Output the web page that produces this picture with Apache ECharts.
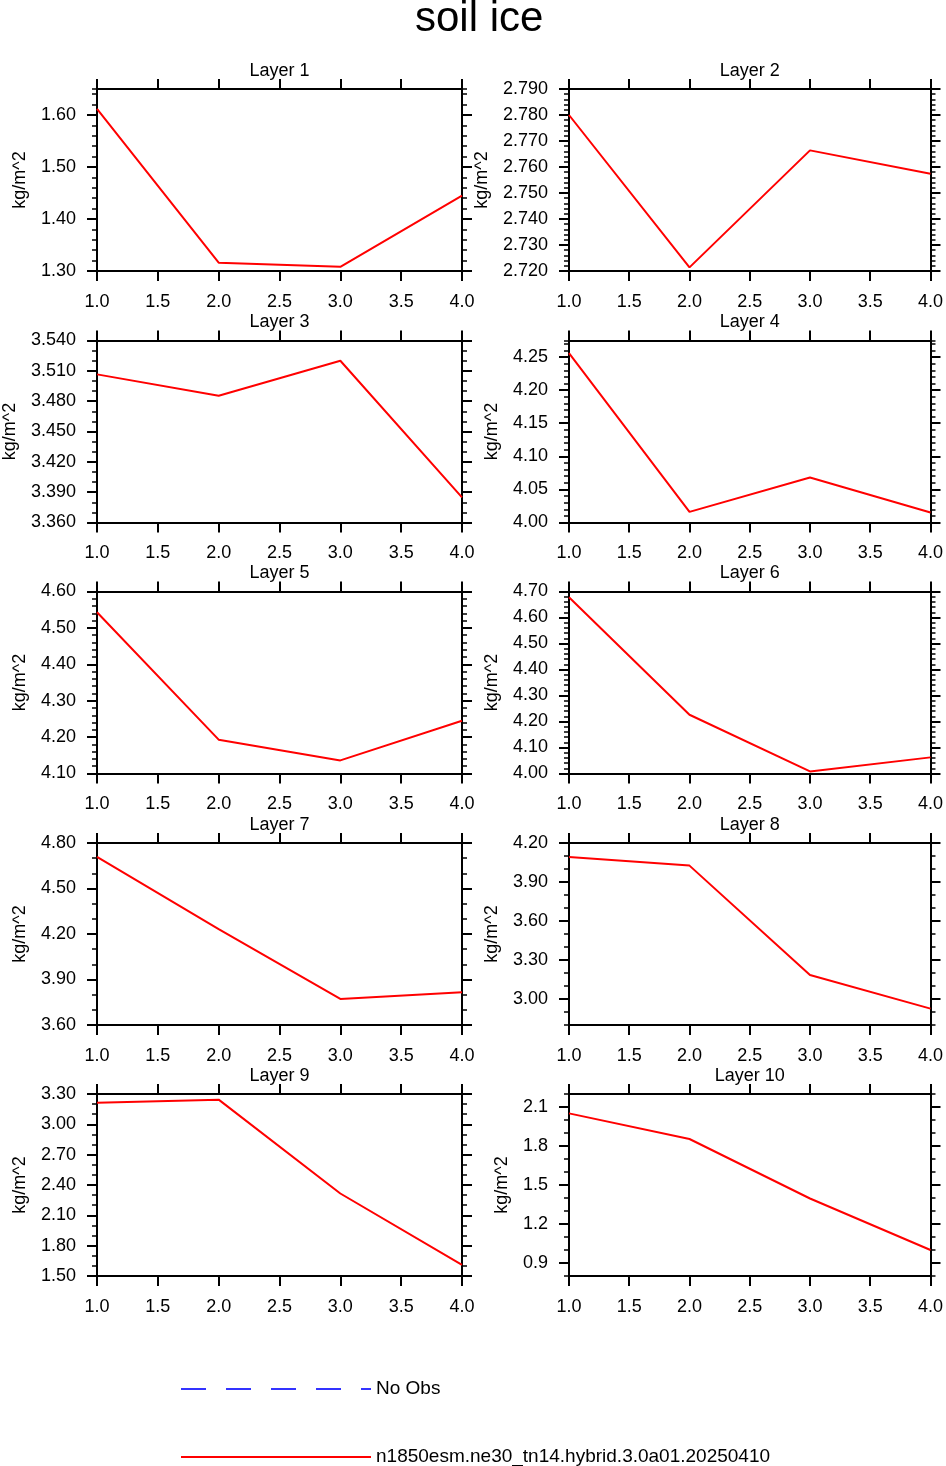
<!DOCTYPE html>
<html><head><meta charset="utf-8">
<script src="https://cdn.jsdelivr.net/npm/echarts@6/dist/echarts.min.js"></script>
<style>html,body{margin:0;padding:0;background:#fff}#c{width:946px;height:1466px}</style>
</head><body><div id="c"></div>
<script>
// ---------- data ----------
const chartTitle = 'soil ice';
const runName = 'n1850esm.ne30_tn14.hybrid.3.0a01.20250410';
const obsName = 'No Obs';
const unitName = 'kg/m^2';
const layerNames = ['Layer 1','Layer 2','Layer 3','Layer 4','Layer 5','Layer 6','Layer 7','Layer 8','Layer 9','Layer 10'];
const xValues = [1, 2, 3, 4];
const layer1 = [1.612, 1.316, 1.308, 1.445];
const layer2 = [2.7800, 2.7214, 2.7664, 2.7574];
const layer3 = [3.5065, 3.4853, 3.5200, 3.3849];
const layer4 = [4.256, 4.016, 4.068, 4.015];
const layer5 = [4.543, 4.193, 4.136, 4.245];
const layer6 = [4.678, 4.226, 4.008, 4.062];
const layer7 = [4.708, 4.232, 3.772, 3.816];
const layer8 = [4.092, 4.026, 3.185, 2.926];
const layer9 = [3.214, 3.244, 2.316, 1.609];
const layer10 = [2.051, 1.854, 1.396, 1.000];
const xTicks = ['1.0','1.5','2.0','2.5','3.0','3.5','4.0'];
const ticks1 = ['1.30','1.40','1.50','1.60'];
const ticks2 = ['2.720','2.730','2.740','2.750','2.760','2.770','2.780','2.790'];
const ticks3 = ['3.360','3.390','3.420','3.450','3.480','3.510','3.540'];
const ticks4 = ['4.00','4.05','4.10','4.15','4.20','4.25'];
const ticks5 = ['4.10','4.20','4.30','4.40','4.50','4.60'];
const ticks6 = ['4.00','4.10','4.20','4.30','4.40','4.50','4.60','4.70'];
const ticks7 = ['3.60','3.90','4.20','4.50','4.80'];
const ticks8 = ['3.00','3.30','3.60','3.90','4.20'];
const ticks9 = ['1.50','1.80','2.10','2.40','2.70','3.00','3.30'];
const ticks10 = ['0.9','1.2','1.5','1.8','2.1'];
const yMin = [1.30, 2.720, 3.360, 4.00, 4.10, 4.00, 3.60, 2.80, 1.50, 0.8];
const yMax = [1.65, 2.790, 3.540, 4.275, 4.60, 4.70, 4.80, 4.20, 3.30, 2.2];
const yMinorStep = [0.02, 0.002, 0.01, 0.01, 0.02, 0.02, 0.1, 0.1, 0.1, 0.1];

const layers = [layer1, layer2, layer3, layer4, layer5, layer6, layer7, layer8, layer9, layer10];
const yTicks = [ticks1, ticks2, ticks3, ticks4, ticks5, ticks6, ticks7, ticks8, ticks9, ticks10];

// ---------- layout ----------
const FONT = '"Liberation Sans", Arial, Helvetica, sans-serif';
const colLeft = [97, 569];
const colWidth = [365, 364];
const rowTop = [89, 340.5, 591.5, 843, 1094];
const panelH = 182;
const black = '#000000';
const red = '#ff0000';
const blue = '#3333ff';

const ctx = document.createElement('canvas').getContext('2d');
ctx.font = '18px "Liberation Sans"';
function textW(s) { return ctx.measureText(s).width; }

const grid = [], xAxis = [], yAxis = [], series = [];
const txt = { fontSize: 18, color: black, fontFamily: FONT };

layers.forEach((vals, i) => {
  const col = i % 2, row = Math.floor(i / 2);
  grid.push({ left: colLeft[col], top: rowTop[row], width: colWidth[col], height: panelH, containLabel: false });
  const xBase = {
    gridIndex: i, type: 'value', min: 1, max: 4, interval: 0.5,
    axisLine: { show: true, onZero: false, lineStyle: { color: black, width: 2 } },
    axisTick: { show: true, inside: false, length: 10, lineStyle: { color: black, width: 2 } },
    splitLine: { show: false }
  };
  xAxis.push(Object.assign({}, xBase, {
    position: 'bottom',
    axisLabel: Object.assign({ show: true, margin: 22, formatter: v => xTicks.find(t => Math.abs(Number(t) - v) < 1e-9) || '' }, txt)
  }));
  xAxis.push(Object.assign({}, xBase, {
    position: 'top',
    axisLabel: { show: false },
    name: layerNames[i], nameLocation: 'middle', nameGap: 9,
    nameTextStyle: txt
  }));
  const tk = yTicks[i];
  const tv = tk.map(Number);
  const labelW = Math.max.apply(null, tk.map(textW));
  const fmt = v => { const t = tk.find(s => Math.abs(Number(s) - v) < 1e-9); return t || ''; };
  ['left', 'right'].forEach(pos => {
    yAxis.push({
      gridIndex: i, type: 'value', min: yMin[i], max: yMax[i], position: pos,
      axisLine: { show: true, onZero: false, lineStyle: { color: black, width: 2 } },
      axisTick: { show: true, inside: false, length: 10, customValues: tv, lineStyle: { color: black, width: 2 } },
      axisLabel: Object.assign({ show: pos === 'left', margin: 21, customValues: tv, formatter: fmt }, txt),
      splitLine: { show: false },
      name: pos === 'left' ? unitName : '',
      nameLocation: 'middle', nameGap: labelW + 33,
      nameTextStyle: txt
    });
    yAxis.push({
      gridIndex: i, type: 'value', min: yMin[i], max: yMax[i], position: pos,
      interval: yMinorStep[i],
      axisLine: { show: false },
      axisTick: { show: true, inside: false, length: 5, lineStyle: { color: black, width: 1.5 } },
      axisLabel: { show: false },
      splitLine: { show: false }
    });
  });
  series.push({
    type: 'line', name: runName, xAxisIndex: i * 2, yAxisIndex: i * 4,
    data: xValues.map((x, k) => [x, vals[k]]),
    symbol: 'none', silent: true,
    lineStyle: { color: red, width: 2 }, itemStyle: { color: red, opacity: 0 }
  });
});

series.push({
  type: 'line', name: obsName, xAxisIndex: 0, yAxisIndex: 0, data: [],
  symbol: 'none', lineStyle: { color: blue, width: 2, type: [25, 20] }, itemStyle: { color: blue, opacity: 0 }
});

const legendBase = { left: 180, itemWidth: 190, itemHeight: 14, itemGap: 0, padding: 0,
  selectedMode: false, textStyle: { fontSize: 19, color: black, fontFamily: FONT, lineHeight: 22 },
  itemStyle: { opacity: 0, borderWidth: 0 } };
const option = {
  animation: false,
  backgroundColor: '#ffffff',
  title: [{
    text: chartTitle, left: 415, top: -2, padding: 0,
    textStyle: { fontSize: 42, fontWeight: 'normal', color: black, fontFamily: FONT }
  }],
  legend: [
    Object.assign({ data: [obsName], top: 1378 }, legendBase),
    Object.assign({ data: [runName], top: 1446 }, legendBase)
  ],
  grid, xAxis, yAxis, series
};
const chart = echarts.init(document.getElementById('c'), null, { renderer: 'canvas' });
chart.setOption(option);
</script>
</body></html>
